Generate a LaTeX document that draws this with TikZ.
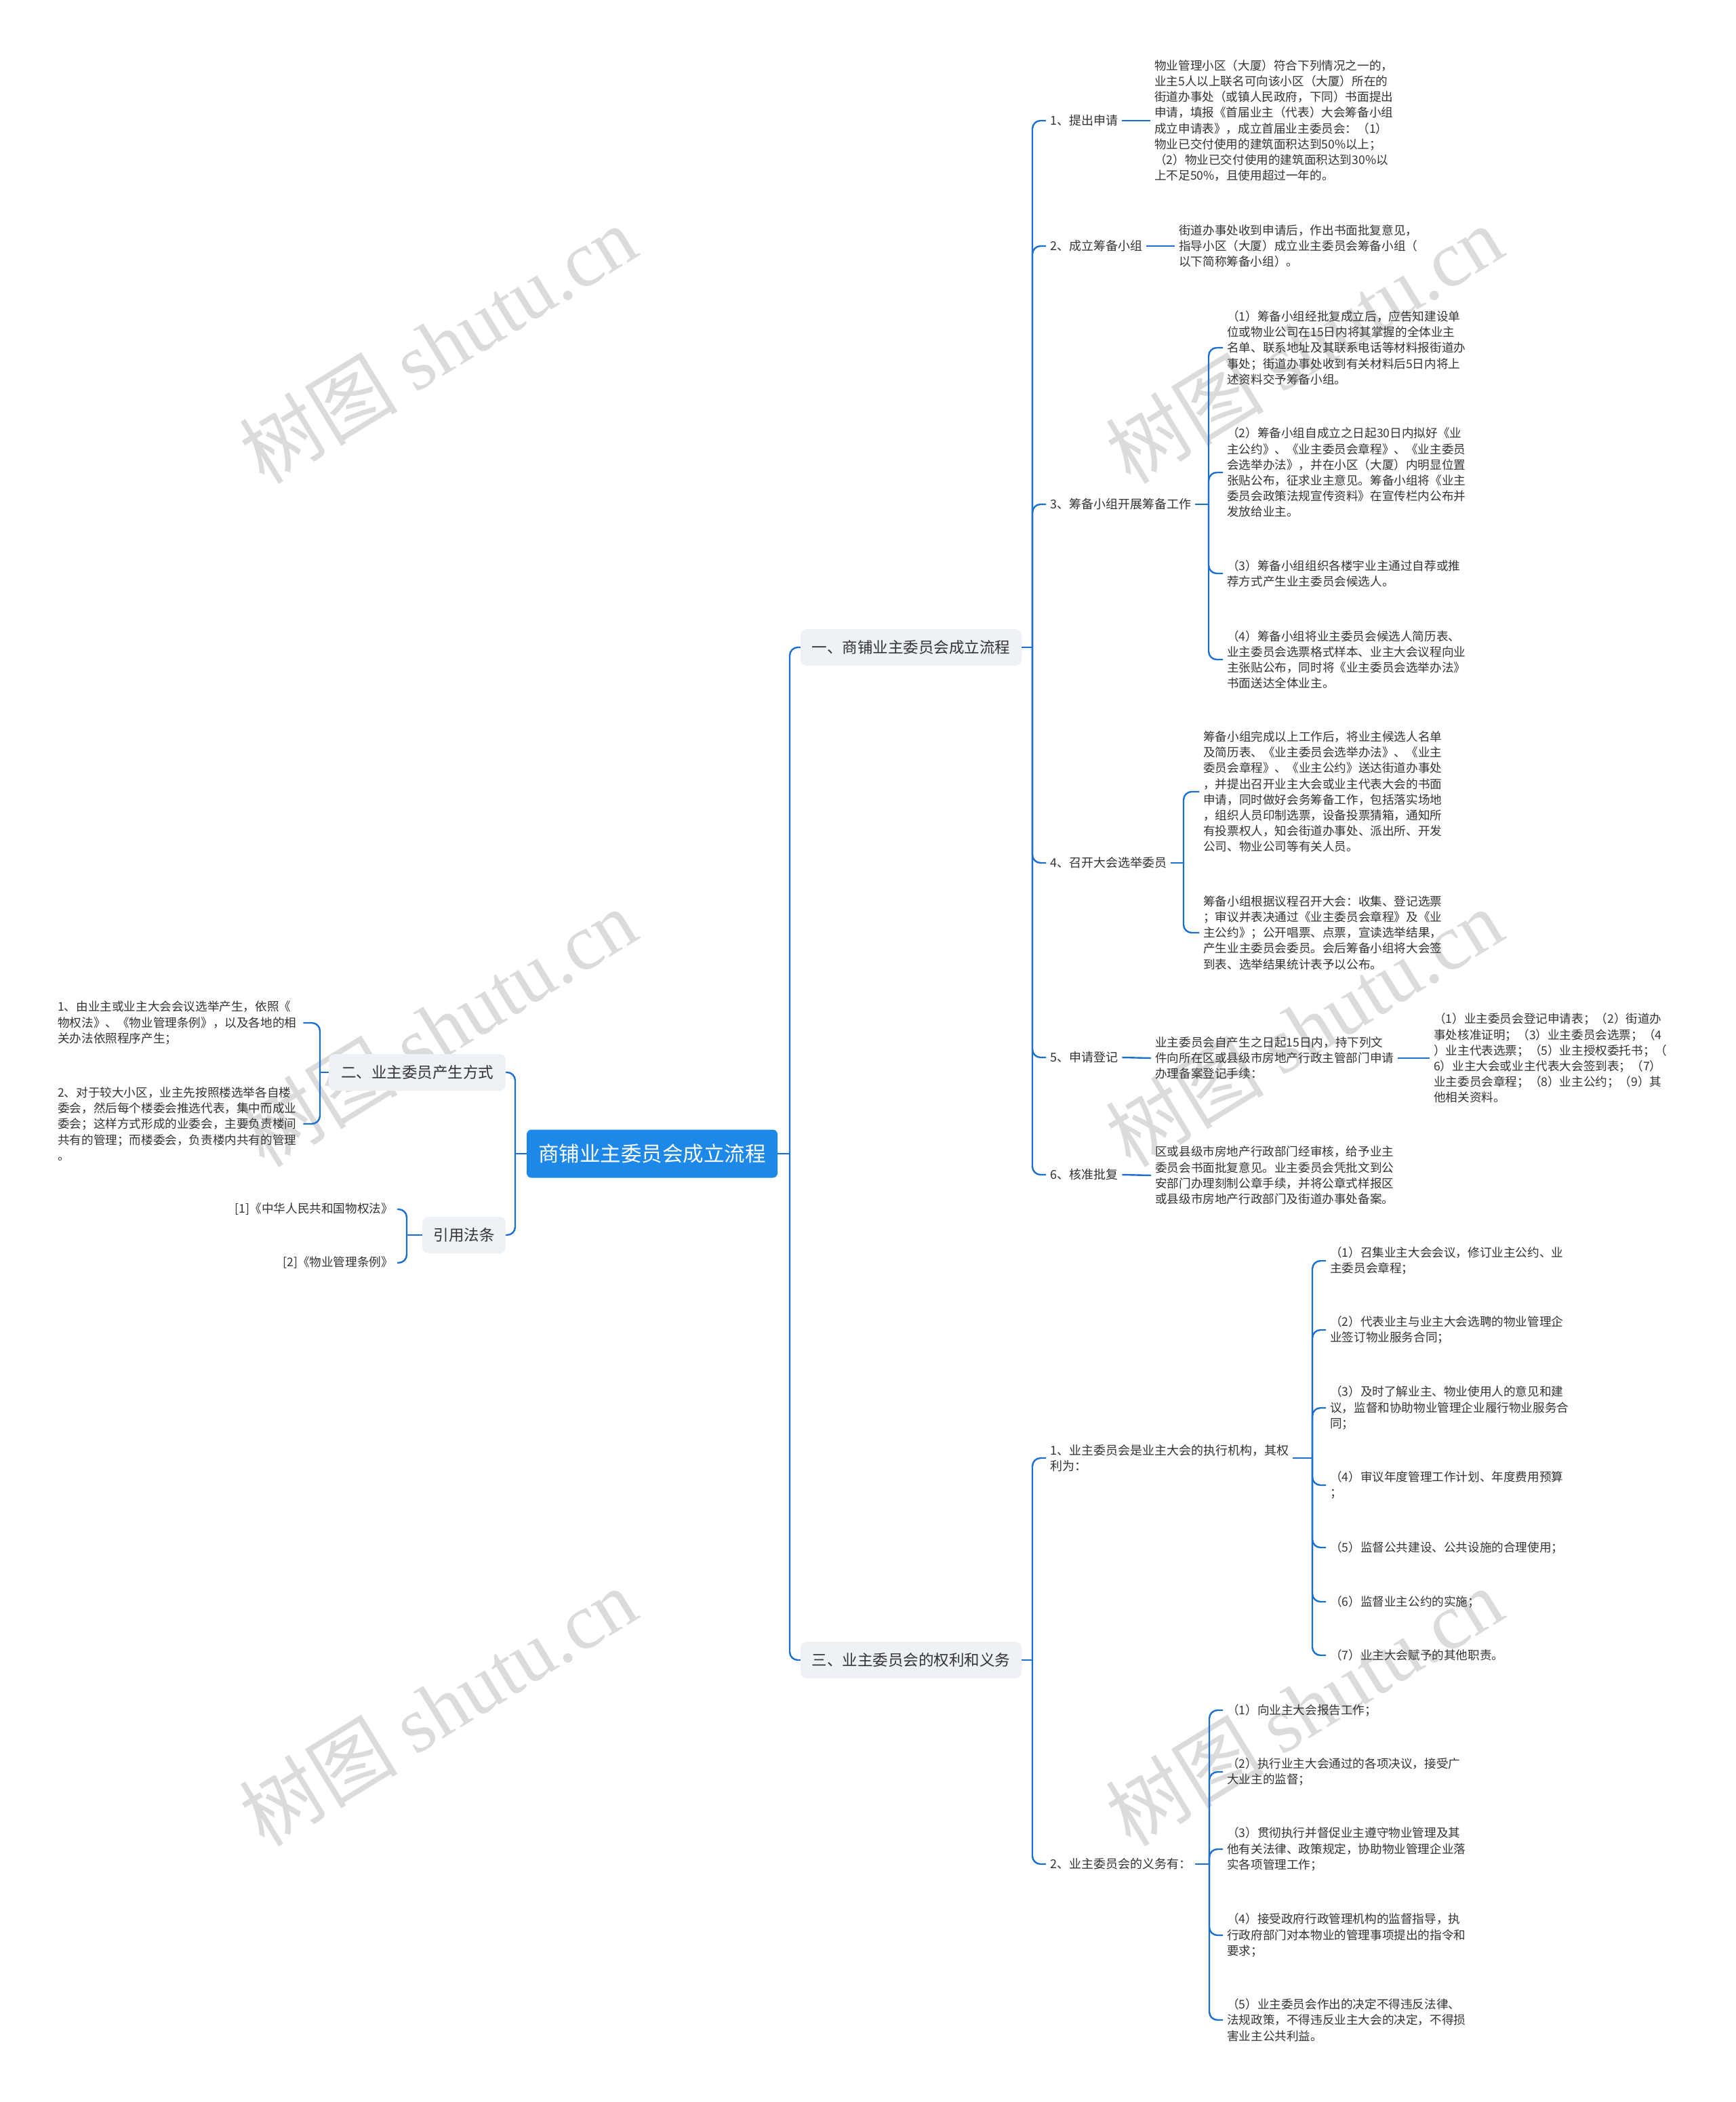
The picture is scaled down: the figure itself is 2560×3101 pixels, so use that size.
\documentclass[tikz,border=0pt]{standalone}
\usepackage{fontspec}
\setmainfont{Noto Sans CJK SC}
\newfontfamily\markserif{Liberation Serif}
\usepackage{xcolor}
\usepackage{tikz}
\definecolor{linkblue}{HTML}{1B6FD0}
\definecolor{rootblue}{HTML}{1E88E8}
\definecolor{topicgray}{HTML}{EEF1F6}
\definecolor{textgray}{HTML}{333333}
\definecolor{markgray}{HTML}{DBDBDB}
\tikzstyle{branch} = [line width=2.4pt, draw=linkblue, rounded corners=12pt]
\tikzstyle{rootnode} = [rectangle, rounded corners=7pt, fill=rootblue, text=white, minimum width=370pt, minimum height=71pt, font=\fontsize{30.5}{36}\selectfont]
\tikzstyle{topic} = [rectangle, rounded corners=9pt, fill=topicgray, text=textgray, minimum height=54pt, font=\fontsize{22.5}{28}\selectfont]
\tikzstyle{subtopic} = [anchor=west, inner xsep=6pt, inner ysep=0pt, text=textgray, align=left, font=\fontsize{18}{23.2}\selectfont]
\tikzstyle{leaf} = [anchor=west, inner xsep=6pt, inner ysep=0pt, text=textgray, align=left, font=\fontsize{17.6}{23.2}\selectfont]
\tikzstyle{watermark} = [rotate=31.5, text=markgray, inner sep=0pt, font=\fontsize{117}{117}\selectfont]

\begin{document}
\begin{tikzpicture}[x=1pt, y=-1pt]
\useasboundingbox (0,0) rectangle (2560,3101);

% Watermarks
\node (mark_a) [watermark] at (646,508) {树图 {\markserif shutu.cn}};
\node (mark_b) [watermark] at (1924,508) {树图 {\markserif shutu.cn}};
\node (mark_c) [watermark] at (646,1516) {树图 {\markserif shutu.cn}};
\node (mark_d) [watermark] at (1924,1516) {树图 {\markserif shutu.cn}};
\node (mark_e) [watermark] at (646,2518) {树图 {\markserif shutu.cn}};
\node (mark_f) [watermark] at (1924,2518) {树图 {\markserif shutu.cn}};

% Root and main topics
\node (root) [rootnode] at (962,1702) {商铺业主委员会成立流程};
\node (part_one) [topic, minimum width=326pt] at (1344,955) {一、商铺业主委员会成立流程};
\node (part_three) [topic, minimum width=326pt] at (1344,2449) {三、业主委员会的权利和义务};
\node (part_two) [topic, minimum width=261pt] at (615.5,1582) {二、业主委员产生方式};
\node (cite_laws) [topic, minimum width=123pt] at (684.5,1822) {引用法条};

\coordinate (root_right) at (1165,1702);
\coordinate (root_left) at (760,1702);
\coordinate (one_fork) at (1523,955);
\coordinate (prep_fork) at (1783,744);
\coordinate (meet_fork) at (1746,1273);
\coordinate (three_fork) at (1523,2449);
\coordinate (rights_fork) at (1936,2151);
\coordinate (duties_fork) at (1784,2750);
\coordinate (two_fork) at (472,1582);
\coordinate (cite_fork) at (600,1822);

% Part one: steps
\node (apply_label) [subtopic] at (1543,178) {1、提出申请};
\node (apply_text) [leaf] at (1697,178) {物业管理小区（大厦）符合下列情况之一的，\\业主5人以上联名可向该小区（大厦）所在的\\街道办事处（或镇人民政府，下同）书面提出\\申请，填报《首届业主（代表）大会筹备小组\\成立申请表》，成立首届业主委员会：（1）\\物业已交付使用的建筑面积达到50\%以上；\\（2）物业已交付使用的建筑面积达到30\%以\\上不足50\%，且使用超过一年的。};

\node (group_label) [subtopic] at (1543,363) {2、成立筹备小组};
\node (group_text) [leaf] at (1733,363) {街道办事处收到申请后，作出书面批复意见，\\指导小区（大厦）成立业主委员会筹备小组（\\以下简称筹备小组）。};

\node (prep_label) [subtopic] at (1543,744) {3、筹备小组开展筹备工作};
\node (prep_one) [leaf] at (1804,513) {（1）筹备小组经批复成立后，应告知建设单\\位或物业公司在15日内将其掌握的全体业主\\名单、联系地址及其联系电话等材料报街道办\\事处；街道办事处收到有关材料后5日内将上\\述资料交予筹备小组。};
\node (prep_two) [leaf] at (1804,697) {（2）筹备小组自成立之日起30日内拟好《业\\主公约》、《业主委员会章程》、《业主委员\\会选举办法》，并在小区（大厦）内明显位置\\张贴公布，征求业主意见。筹备小组将《业主\\委员会政策法规宣传资料》在宣传栏内公布并\\发放给业主。};
\node (prep_three) [leaf] at (1804,846) {（3）筹备小组组织各楼宇业主通过自荐或推\\荐方式产生业主委员会候选人。};
\node (prep_four) [leaf] at (1804,973) {（4）筹备小组将业主委员会候选人简历表、\\业主委员会选票格式样本、业主大会议程向业\\主张贴公布，同时将《业主委员会选举办法》\\书面送达全体业主。};

\node (meet_label) [subtopic] at (1543,1273) {4、召开大会选举委员};
\node (meet_one) [leaf] at (1769,1168) {筹备小组完成以上工作后，将业主候选人名单\\及简历表、《业主委员会选举办法》、《业主\\委员会章程》、《业主公约》送达街道办事处\\，并提出召开业主大会或业主代表大会的书面\\申请，同时做好会务筹备工作，包括落实场地\\，组织人员印制选票，设备投票猜箱，通知所\\有投票权人，知会街道办事处、派出所、开发\\公司、物业公司等有关人员。};
\node (meet_two) [leaf] at (1769,1376) {筹备小组根据议程召开大会：收集、登记选票\\；审议并表决通过《业主委员会章程》及《业\\主公约》；公开唱票、点票，宣读选举结果，\\产生业主委员会委员。会后筹备小组将大会签\\到表、选举结果统计表予以公布。};

\node (reg_label) [subtopic] at (1543,1560) {5、申请登记};
\node (reg_text) [leaf] at (1698,1561) {业主委员会自产生之日起15日内，持下列文\\件向所在区或县级市房地产行政主管部门申请\\办理备案登记手续：};
\node (reg_list) [leaf] at (2109,1561) {（1）业主委员会登记申请表；（2）街道办\\事处核准证明；（3）业主委员会选票；（4\\）业主代表选票；（5）业主授权委托书；（\\6）业主大会或业主代表大会签到表；（7）\\业主委员会章程；（8）业主公约；（9）其\\他相关资料。};

\node (approve_label) [subtopic] at (1543,1733) {6、核准批复};
\node (approve_text) [leaf] at (1698,1734) {区或县级市房地产行政部门经审核，给予业主\\委员会书面批复意见。业主委员会凭批文到公\\安部门办理刻制公章手续，并将公章式样报区\\或县级市房地产行政部门及街道办事处备案。};

% Part three: rights and duties
\node (rights_label) [subtopic] at (1543,2151) {1、业主委员会是业主大会的执行机构，其权\\利为：};
\node (rights_1) [leaf] at (1956,1860) {（1）召集业主大会会议，修订业主公约、业\\主委员会章程；};
\node (rights_2) [leaf] at (1956,1962) {（2）代表业主与业主大会选聘的物业管理企\\业签订物业服务合同；};
\node (rights_3) [leaf] at (1956,2077) {（3）及时了解业主、物业使用人的意见和建\\议，监督和协助物业管理企业履行物业服务合\\同；};
\node (rights_4) [leaf] at (1956,2191) {（4）审议年度管理工作计划、年度费用预算\\；};
\node (rights_5) [leaf] at (1956,2283) {（5）监督公共建设、公共设施的合理使用；};
\node (rights_6) [leaf] at (1956,2363) {（6）监督业主公约的实施；};
\node (rights_7) [leaf] at (1956,2442) {（7）业主大会赋予的其他职责。};

\node (duties_label) [subtopic] at (1543,2750) {2、业主委员会的义务有：};
\node (duties_1) [leaf] at (1804,2523) {（1）向业主大会报告工作；};
\node (duties_2) [leaf] at (1804,2614) {（2）执行业主大会通过的各项决议，接受广\\大业主的监督；};
\node (duties_3) [leaf] at (1804,2728) {（3）贯彻执行并督促业主遵守物业管理及其\\他有关法律、政策规定，协助物业管理企业落\\实各项管理工作；};
\node (duties_4) [leaf] at (1804,2855) {（4）接受政府行政管理机构的监督指导，执\\行政府部门对本物业的管理事项提出的指令和\\要求；};
\node (duties_5) [leaf] at (1804,2980) {（5）业主委员会作出的决定不得违反法律、\\法规政策，不得违反业主大会的决定，不得损\\害业主公共利益。};

% Part two and cited laws
\node (way_one) [leaf, text width=356pt] at (79,1509) {1、由业主或业主大会会议选举产生，依照《\\物权法》、《物业管理条例》，以及各地的相\\关办法依照程序产生；};
\node (way_two) [leaf, text width=356pt] at (79,1658) {2、对于较大小区，业主先按照楼选举各自楼\\委会，然后每个楼委会推选代表，集中而成业\\委会；这样方式形成的业委会，主要负责楼间\\共有的管理；而楼委会，负责楼内共有的管理\\。};
\node (law_one) [leaf, anchor=east] at (586,1784) {[1]《中华人民共和国物权法》};
\node (law_two) [leaf, anchor=east] at (586,1863) {[2]《物业管理条例》};

% Connections
\draw [branch] (root.east) -- (root_right);
\draw [branch] (root_right) |- (part_one.west);
\draw [branch] (root_right) |- (part_three.west);
\draw [branch] (root.west) -- (root_left);
\draw [branch] (root_left) |- (part_two.east);
\draw [branch] (root_left) |- (cite_laws.east);

\draw [branch] (part_one.east) -- (one_fork);
\draw [branch] (one_fork) |- (apply_label.west);
\draw [branch] (one_fork) |- (group_label.west);
\draw [branch] (one_fork) |- (prep_label.west);
\draw [branch] (one_fork) |- (meet_label.west);
\draw [branch] (one_fork) |- (reg_label.west);
\draw [branch] (one_fork) |- (approve_label.west);
\draw [branch] (apply_label.east) -- (apply_text.west);
\draw [branch] (group_label.east) -- (group_text.west);
\draw [branch] (prep_label.east) -- (prep_fork);
\draw [branch] (prep_fork) |- (prep_one.west);
\draw [branch] (prep_fork) |- (prep_two.west);
\draw [branch] (prep_fork) |- (prep_three.west);
\draw [branch] (prep_fork) |- (prep_four.west);
\draw [branch] (meet_label.east) -- (meet_fork);
\draw [branch] (meet_fork) |- (meet_one.west);
\draw [branch] (meet_fork) |- (meet_two.west);
\draw [branch] (reg_label.east) -- (reg_text.west);
\draw [branch] (reg_text.east) -- (reg_list.west);
\draw [branch] (approve_label.east) -- (approve_text.west);

\draw [branch] (part_three.east) -- (three_fork);
\draw [branch] (three_fork) |- (rights_label.west);
\draw [branch] (three_fork) |- (duties_label.west);
\draw [branch] (rights_label.east) -- (rights_fork);
\draw [branch] (rights_fork) |- (rights_1.west);
\draw [branch] (rights_fork) |- (rights_2.west);
\draw [branch] (rights_fork) |- (rights_3.west);
\draw [branch] (rights_fork) |- (rights_4.west);
\draw [branch] (rights_fork) |- (rights_5.west);
\draw [branch] (rights_fork) |- (rights_6.west);
\draw [branch] (rights_fork) |- (rights_7.west);
\draw [branch] (duties_label.east) -- (duties_fork);
\draw [branch] (duties_fork) |- (duties_1.west);
\draw [branch] (duties_fork) |- (duties_2.west);
\draw [branch] (duties_fork) |- (duties_3.west);
\draw [branch] (duties_fork) |- (duties_4.west);
\draw [branch] (duties_fork) |- (duties_5.west);

\draw [branch] (part_two.west) -- (two_fork);
\draw [branch] (two_fork) |- (way_one.east);
\draw [branch] (two_fork) |- (way_two.east);
\draw [branch] (cite_laws.west) -- (cite_fork);
\draw [branch] (cite_fork) |- (law_one.east);
\draw [branch] (cite_fork) |- (law_two.east);

\end{tikzpicture}
\end{document}
